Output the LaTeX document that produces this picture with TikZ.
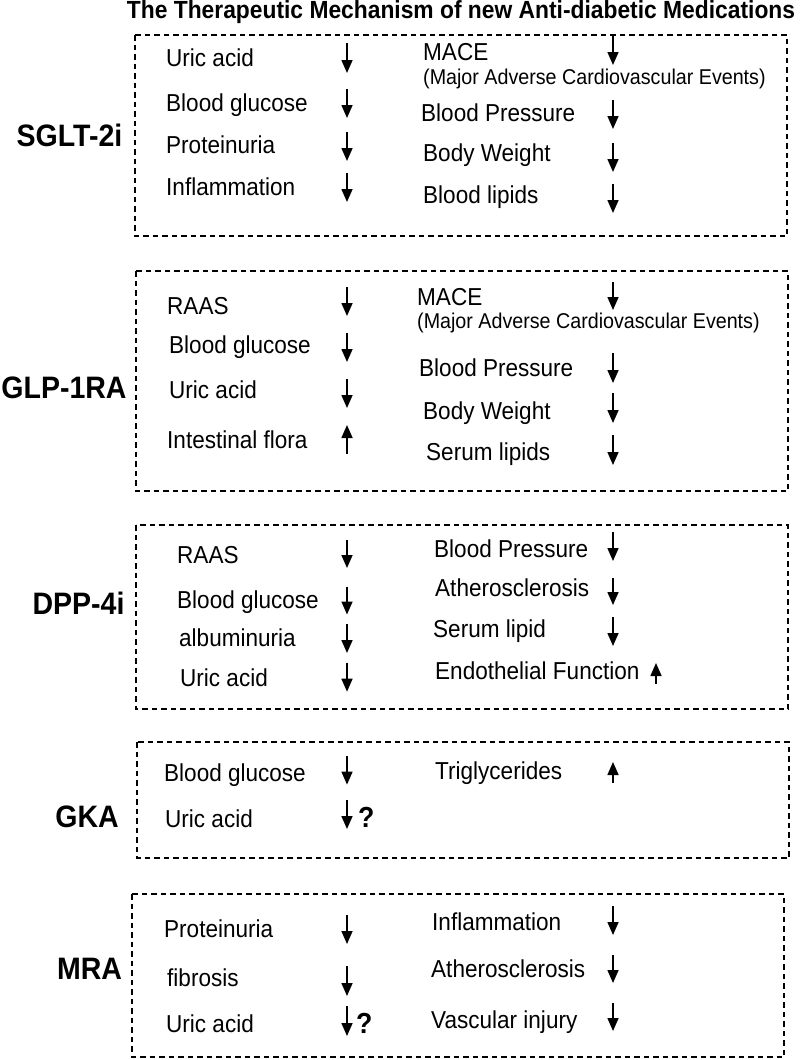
\documentclass[tikz,border=0pt]{standalone}
\usepackage{fontspec}
\setmainfont{Liberation Sans}
\newfontfamily\condfont{Liberation Sans}[FakeStretch=0.92]
\usetikzlibrary{arrows.meta}
\begin{document}
\begin{tikzpicture}[x=1pt,y=-1pt,
  dbox/.style={draw, line width=1.2pt, dash pattern=on 5.5pt off 4pt},
  item/.style={anchor=base west, inner sep=0pt, font=\condfont\fontsize{24.5}{28}\selectfont},
  sub/.style={anchor=base west, inner sep=0pt, font=\condfont\fontsize{21.4}{25}\selectfont},
  drug/.style={anchor=base, inner sep=0pt, font=\condfont\fontsize{31}{36}\selectfont\bfseries},
  qm/.style={anchor=base west, inner sep=0pt, font=\condfont\fontsize{29}{32}\selectfont\bfseries},
  ttl/.style={anchor=base, inner sep=0pt, font=\condfont\fontsize{24.8}{28}\selectfont\bfseries},
  arr/.style={line width=1.6pt, -{Triangle[width=11pt,length=13pt]}},
]
\useasboundingbox (0,0) rectangle (800,1060);

% title
\node[ttl] (title) at (461,18) {The Therapeutic Mechanism of new Anti-diabetic Medications};

% boxes
\draw[dbox] (135,35) rectangle (787,236);
\draw[dbox] (136,271) rectangle (788,491);
\draw[dbox] (136,525) rectangle (788,709);
\draw[dbox] (137,742) rectangle (789,858);
\draw[dbox] (132,894) rectangle (784,1057);

% drug labels
\node[drug] (d1) at (69.5,146) {SGLT-2i};
\node[drug] (d2) at (64,398) {GLP-1RA};
\node[drug] (d3) at (78.5,614) {DPP-4i};
\node[drug] (d4) at (87,827) {GKA};
\node[drug] (d5) at (89.5,979) {MRA};

% ---- SGLT-2i
\node[item] (a1) at (166,66) {Uric acid};
\node[item] (a2) at (166,111.5) {Blood glucose};
\node[item] (a3) at (166,153.5) {Proteinuria};
\node[item] (a4) at (166,195.5) {Inflammation};
\draw[arr] (347,43) -- (347,73);
\draw[arr] (347,89) -- (347,118);
\draw[arr] (347,132) -- (347,161);
\draw[arr] (347,173) -- (347,202);
\node[item] (a5) at (423,60.5) {MACE};
\node[sub] (a6) at (423,84.5) {(Major Adverse Cardiovascular Events)};
\node[item] (a7) at (421,121.5) {Blood Pressure};
\node[item] (a8) at (423,161.5) {Body Weight};
\node[item] (a9) at (423,203.5) {Blood lipids};
\draw[arr] (613,35) -- (613,65);
\draw[arr] (613,100) -- (613,129);
\draw[arr] (613,143) -- (613,172);
\draw[arr] (613,184) -- (613,213);

% ---- GLP-1RA
\node[item] (b1) at (167,314.5) {RAAS};
\node[item] (b2) at (169,353.5) {Blood glucose};
\node[item] (b3) at (169,398.5) {Uric acid};
\node[item] (b4) at (167,448) {Intestinal flora};
\draw[arr] (347,287) -- (347,316);
\draw[arr] (347,333) -- (347,362);
\draw[arr] (347,379) -- (347,408);
\draw[arr] (347,454) -- (347,425);
\node[item] (b5) at (417,305.5) {MACE};
\node[sub] (b6) at (417,328.5) {(Major Adverse Cardiovascular Events)};
\node[item] (b7) at (419,376.5) {Blood Pressure};
\node[item] (b8) at (423,419.5) {Body Weight};
\node[item] (b9) at (426,460.5) {Serum lipids};
\draw[arr] (613,282) -- (613,310);
\draw[arr] (613,353) -- (613,383);
\draw[arr] (613,393) -- (613,423);
\draw[arr] (613,435) -- (613,465);

% ---- DPP-4i
\node[item] (c1) at (177,563) {RAAS};
\node[item] (c2) at (177,608) {Blood glucose};
\node[item] (c3) at (179,646.5) {albuminuria};
\node[item] (c4) at (180,686) {Uric acid};
\draw[arr] (347,540) -- (347,568);
\draw[arr] (347,586.5) -- (347,614.5);
\draw[arr] (347,624) -- (347,653);
\draw[arr] (347,662.6) -- (347,691.7);
\node[item] (c5) at (434,557) {Blood Pressure};
\node[item] (c6) at (435,596.5) {Atherosclerosis};
\node[item] (c7) at (433,637.5) {Serum lipid};
\node[item] (c8) at (435,679.5) {Endothelial Function};
\draw[arr] (613,532) -- (613,561);
\draw[arr] (613,578) -- (613,605);
\draw[arr] (613,617) -- (613,646);
\draw[arr] (656,684) -- (656,663);

% ---- GKA
\node[item] (e1) at (164,781) {Blood glucose};
\node[item] (e2) at (165,827) {Uric acid};
\draw[arr] (347,755.5) -- (347,784.6);
\draw[arr] (347,800) -- (347,829);
\node[qm] (e3) at (358,827.5) {?};
\node[item] (e4) at (435,779.5) {Triglycerides};
\draw[arr] (613,783) -- (613,762);

% ---- MRA
\node[item] (f1) at (164,937.5) {Proteinuria};
\node[item] (f2) at (167,986.5) {fibrosis};
\node[item] (f3) at (166,1032.5) {Uric acid};
\draw[arr] (347,915) -- (347,944);
\draw[arr] (347,966) -- (347,996);
\draw[arr] (347,1006) -- (347,1036);
\node[qm] (f4) at (356,1033.5) {?};
\node[item] (f5) at (432,930.5) {Inflammation};
\node[item] (f6) at (431,977.5) {Atherosclerosis};
\node[item] (f7) at (431,1028.5) {Vascular injury};
\draw[arr] (613,906) -- (613,935);
\draw[arr] (613,955) -- (613,983);
\draw[arr] (613,1003) -- (613,1031);
\end{tikzpicture}
\end{document}
